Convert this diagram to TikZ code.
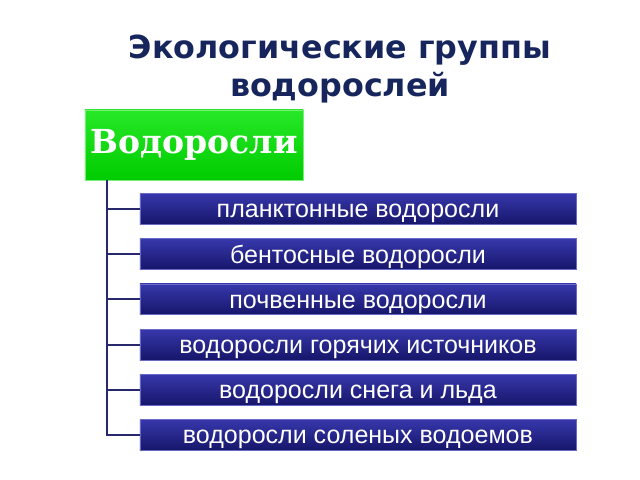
\documentclass[tikz,border=0pt]{standalone}
\usepackage{fontspec}
\setmainfont{Liberation Sans}
\newfontfamily\titlefont{DejaVu Sans}
\newfontfamily\headfont{DejaVu Serif}
\usetikzlibrary{positioning}

\definecolor{navytext}{RGB}{22,38,92}
\definecolor{blueEdge}{RGB}{105,105,200}
\definecolor{blueTop}{RGB}{55,55,172}
\definecolor{blueMid}{RGB}{38,38,152}
\definecolor{blueBot}{RGB}{22,22,106}
\definecolor{greenEdge}{RGB}{120,238,120}
\definecolor{greenTop}{RGB}{40,232,40}
\definecolor{greenMid}{RGB}{4,222,4}
\definecolor{greenBot}{RGB}{0,204,0}
\definecolor{treeline}{RGB}{40,40,110}

\begin{document}
\begin{tikzpicture}
	[
		x=0.025cm, y=-0.025cm,
		kind/.style = {shape=rectangle, anchor=center, draw=blueEdge, line width=0.5pt,
			top color=blueTop, middle color=blueMid, bottom color=blueBot,
			minimum width=10.9cm, minimum height=0.77cm, inner sep=0pt,
			text height=12.6pt, text depth=0pt,
			text=white, font=\fontsize{17.8}{20}\selectfont},
		root/.style = {shape=rectangle, anchor=center, draw=greenEdge, line width=0.5pt,
			top color=greenTop, middle color=greenMid, bottom color=greenBot,
			minimum width=5.45cm, minimum height=1.75cm, inner sep=0pt,
			text=white, font=\headfont\bfseries\fontsize{23.5}{26}\selectfont},
		branch/.style = {draw=treeline, line width=1.4pt}
	]
	
	\useasboundingbox (0,0) rectangle (640,480);
	
	\def\x{358}
	\def\h{45.2}
	
	\node [align=center, text=navytext, font=\titlefont\bfseries\fontsize{22.6}{27.5}\selectfont]
		(title) at (340, 69) {Экологические группы\\водорослей};
	
	\node [root] (algae) at (194, 145) {Водоросли};
	
	\node [kind] (plankton) at (\x, 209) {планктонные водоросли};
	\node [kind] (benthos) at (\x, {209 + \h}) {бентосные водоросли};
	\node [kind] (soil) at (\x, {209 + 2*\h}) {почвенные водоросли};
	\node [kind] (springs) at (\x, {209 + 3*\h}) {водоросли горячих источников};
	\node [kind] (snow) at (\x, {209 + 4*\h}) {водоросли снега и льда};
	\node [kind] (saline) at (\x, {209 + 5*\h}) {водоросли соленых водоемов};
	
	\coordinate (stem) at (107, 180);
	
	\draw [branch] (stem) |- (plankton.west);
	\draw [branch] (stem) |- (benthos.west);
	\draw [branch] (stem) |- (soil.west);
	\draw [branch] (stem) |- (springs.west);
	\draw [branch] (stem) |- (snow.west);
	\draw [branch] (stem) |- (saline.west);
	
\end{tikzpicture}
\end{document}
